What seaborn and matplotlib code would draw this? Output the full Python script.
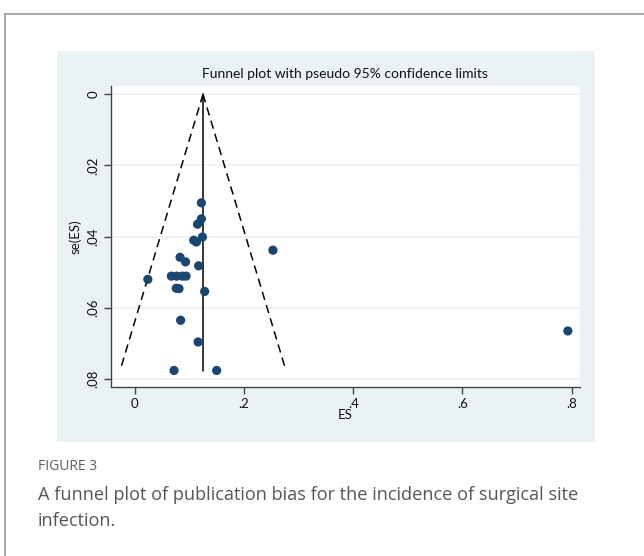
import matplotlib
matplotlib.use("Agg")
import matplotlib.pyplot as plt
import seaborn as sns
import pandas as pd
from matplotlib.patches import Rectangle
from matplotlib.lines import Line2D

# ---- data ----
es = [0.122, 0.122, 0.115, 0.124, 0.108, 0.113, 0.253, 0.083, 0.093, 0.117,
      0.067, 0.077, 0.087, 0.094, 0.024, 0.076, 0.081, 0.128, 0.084, 0.116,
      0.072, 0.150, 0.793]
se = [0.0305, 0.0350, 0.0365, 0.0401, 0.0410, 0.0415, 0.0438, 0.0458, 0.0471, 0.0482,
      0.0511, 0.0511, 0.0511, 0.0511, 0.0520, 0.0545, 0.0546, 0.0554, 0.0635, 0.0696,
      0.0776, 0.0776, 0.0665]
pooled_es = [0.125, 0.125]
pooled_se = [0.0, 0.0777]
funnel_left_es = [0.125, -0.027]
funnel_right_es = [0.125, 0.277]
funnel_se = [0.0, 0.0777]
x_ticks = [0, 0.2, 0.4, 0.6, 0.8]
x_labels = ["0", ".2", ".4", ".6", ".8"]
y_ticks = [0, 0.02, 0.04, 0.06, 0.08]
y_labels = ["0", ".02", ".04", ".06", ".08"]
title = "Funnel plot with pseudo 95% confidence limits"
caption_head = "FIGURE 3"
caption_lines = ["A funnel plot of publication bias for the incidence of surgical site",
                 "infection."]

sns.set_theme(style="white")
plt.rcParams["font.family"] = ["Lato", "DejaVu Sans"]

W, H = 644, 556
fig = plt.figure(figsize=(W / 100, H / 100), dpi=100)
fig.patch.set_facecolor("white")

def fx(px):
    return px / W

def fy(py):
    return 1 - py / H

# card border
fig.add_artist(Line2D([fx(4.5), 1.0], [fy(13.5), fy(13.5)], color="#9a9a9a", lw=1.2))
fig.add_artist(Line2D([fx(4.5), fx(4.5)], [fy(13.5), 0.0], color="#9a9a9a", lw=1.2))

# Stata graph region
fig.add_artist(Rectangle((fx(57), fy(442)), fx(595) - fx(57), fy(51) - fy(442),
                         transform=fig.transFigure, facecolor="#EAF2F3",
                         edgecolor="none", zorder=0))

ax = fig.add_axes([fx(110.7), fy(387), fx(580) - fx(110.7), fy(86) - fy(387)])
ax.set_facecolor("white")

df = pd.DataFrame({"ES": es, "se": se})
for yt in y_ticks:
    ax.axhline(yt, color="#EAF2F3", lw=1.2, zorder=0)

sns.lineplot(x=funnel_left_es, y=funnel_se, ax=ax, color="black", lw=1.1,
             dashes=False, linestyle=(0, (5.5, 3.5)), sort=False, estimator=None)
sns.lineplot(x=funnel_right_es, y=funnel_se, ax=ax, color="black", lw=1.1,
             dashes=False, linestyle=(0, (5.5, 3.5)), sort=False, estimator=None)
sns.lineplot(x=pooled_es, y=pooled_se, ax=ax, color="black", lw=1.1,
             sort=False, estimator=None)
sns.scatterplot(data=df, x="ES", y="se", ax=ax, color="#1A476F", s=44,
                edgecolor="none", zorder=3)

ax.set_xlim(-0.0440, 0.8152)
ax.set_ylim(0.08225, -0.00233)

ax.set_xticks(x_ticks)
ax.set_xticklabels(x_labels)
ax.set_yticks(y_ticks)
ax.set_yticklabels(y_labels, rotation=90, va="center")

for s in ["top", "right"]:
    ax.spines[s].set_visible(False)
for s in ["left", "bottom"]:
    ax.spines[s].set_color("#444444")
    ax.spines[s].set_linewidth(1.0)

ax.tick_params(axis="both", which="both", direction="out", length=5, width=1.0,
               color="#444444", labelsize=9.5, labelcolor="#111111", pad=3,
               bottom=True, left=True)

ax.set_xlabel("ES", fontsize=9.5, color="#111111", labelpad=-1)
ax.set_ylabel("se(ES)", fontsize=9.5, color="#111111", labelpad=4)
ax.set_title(title, fontsize=10, color="#111111", pad=6)

# caption
cap_font = ["Open Sans", "DejaVu Sans"]
fig.text(fx(38), fy(467), caption_head, fontsize=10, color="#5f5f5f",
         family=cap_font, va="center", ha="left")
for i, line in enumerate(caption_lines):
    fig.text(fx(38), fy(495 + 26 * i), line, fontsize=13.1, color="#555555",
             family=cap_font, va="center", ha="left")

fig.savefig("out.png", dpi=100, facecolor="white")
